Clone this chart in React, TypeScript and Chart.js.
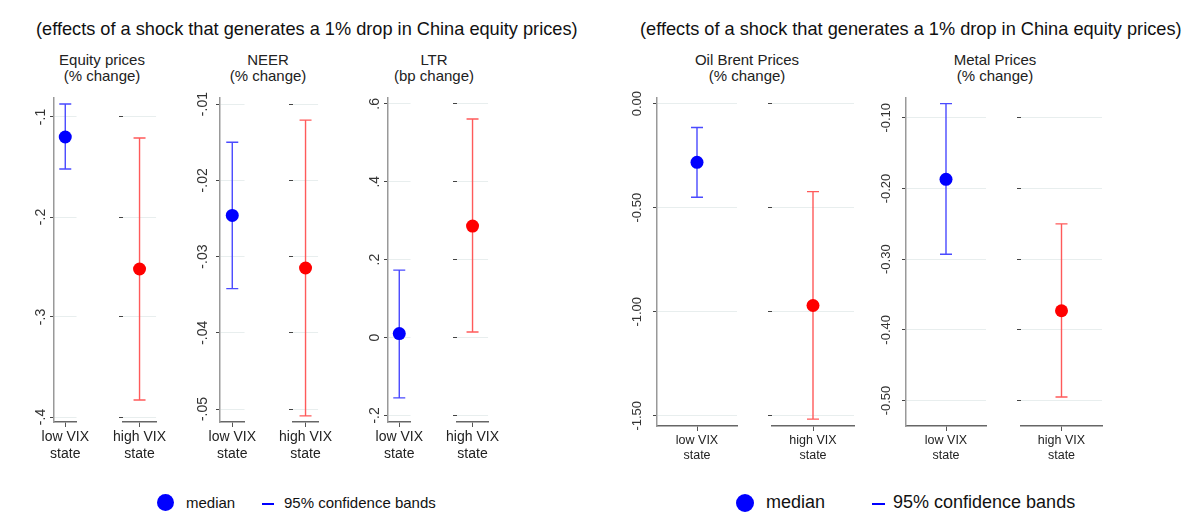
import React, { useEffect, useRef } from "react";
import { Chart, registerables } from "chart.js";
Chart.register(...registerables);

const states = [["low VIX", "state"], ["high VIX", "state"]];
const panelTitles = [["Equity prices", "(% change)"], ["NEER", "(% change)"], ["LTR", "(bp change)"], ["Oil Brent Prices", "(% change)"], ["Metal Prices", "(% change)"]];
// [low, high] per variable
const medians = [[-0.120, -0.252], [-0.0246, -0.0315], [0.010, 0.286], [-0.282, -0.970], [-0.187, -0.373]];
const lower = [[-0.152, -0.383], [-0.0342, -0.0509], [-0.155, 0.014], [-0.450, -1.516], [-0.293, -0.495]];
const upper = [[-0.087, -0.121], [-0.0150, -0.0121], [0.173, 0.561], [-0.115, -0.423], [-0.080, -0.250]];
const yMin = [-0.405, -0.0517, -0.217, -1.549, -0.536];
const yMax = [-0.081, -0.0092, 0.615, 0.027, -0.072];
const yTicks = [[-0.1, -0.2, -0.3, -0.4], [-0.01, -0.02, -0.03, -0.04, -0.05], [0.6, 0.4, 0.2, 0, -0.2], [0, -0.5, -1.0, -1.5], [-0.1, -0.2, -0.3, -0.4, -0.5]];
const yLabels = [["-.1", "-.2", "-.3", "-.4"], ["-.01", "-.02", "-.03", "-.04", "-.05"], [".6", ".4", ".2", "0", "-.2"], ["0.00", "-0.50", "-1.00", "-1.50"], ["-0.10", "-0.20", "-0.30", "-0.40", "-0.50"]];

// layout: [left, right] of chart area for low and high subplots
const boxes = [
  [[54, 90], [123, 167]],
  [[220, 257], [293, 333]],
  [[388, 424], [457, 500]],
  [[657, 737], [772, 854]],
  [[906, 986], [1021, 1102]],
];

const errPlugin = {
  id: "err",
  afterDatasetsDraw(chart: any, _a: any, o: any) {
    const { ctx } = chart;
    const x = chart.scales.x.getPixelForValue(0);
    const y1 = chart.scales.y.getPixelForValue(o.lo);
    const y2 = chart.scales.y.getPixelForValue(o.hi);
    ctx.save();
    ctx.strokeStyle = o.color;
    ctx.lineWidth = 1.4;
    ctx.beginPath();
    ctx.moveTo(x, y1); ctx.lineTo(x, y2);
    ctx.moveTo(x - 6, y1); ctx.lineTo(x + 6, y1);
    ctx.moveTo(x - 6, y2); ctx.lineTo(x + 6, y2);
    ctx.stroke();
    const ym = chart.scales.y.getPixelForValue(o.med);
    ctx.fillStyle = o.dot;
    ctx.beginPath(); ctx.arc(x, ym, 6.5, 0, Math.PI * 2); ctx.fill();
    ctx.restore();
  },
};

function Sub({ v, s }: { v: number; s: number }) {
  const ref = useRef<HTMLCanvasElement>(null);
  const right = v >= 3;
  const YW = right ? 30 : 24;
  const top = 98, bottom = right ? 426 : 422;
  const [l, r] = boxes[v][s];
  const cTop = top - 10;
  const xH = 40;
  const w = r - l + YW + 2;
  const h = bottom - top + 10 + xH;
  useEffect(() => {
    const low = s === 0;
    const c = new Chart(ref.current!, {
      type: "line",
      data: { labels: [states[s]], datasets: [{ data: [medians[v][s]], pointRadius: 0, showLine: false }] },
      options: {
        animation: false, responsive: false, maintainAspectRatio: false,
        layout: { padding: { top: 10, right: 2, left: 0, bottom: 0 } },
        plugins: {
          legend: { display: false }, tooltip: { enabled: false },
          err: { lo: lower[v][s], hi: upper[v][s], med: medians[v][s], color: low ? "#4a4aff" : "#ff5a5a", dot: low ? "#0000ff" : "#ff0000" },
        } as any,
        scales: {
          x: {
            offset: true,
            grid: { offset: false, drawOnChartArea: false, drawTicks: true, tickLength: 5, tickColor: "#555" },
            border: { color: "#666", width: 1.5 },
            ticks: { color: "#222", font: { family: "Arial", size: right ? 12.5 : 14 }, padding: 2, maxRotation: 0 },
            afterFit: (sc: any) => { sc.height = xH; },
          },
          y: {
            min: yMin[v], max: yMax[v],
            afterBuildTicks: (sc: any) => { sc.ticks = yTicks[v].map((t) => ({ value: t })); },
            afterFit: (sc: any) => { sc.width = YW; },
            grid: { color: "#e8eeee", lineWidth: 1, tickLength: 4, tickColor: "#444" },
            border: { display: low, color: "#999", width: 1.5 },
            ticks: {
              color: "#333", font: { family: "Arial", size: right ? 13 : 14 }, minRotation: 90, maxRotation: 90, padding: 1,
              crossAlign: "center",
              callback: (_val: any, i: number) => (low ? yLabels[v][i] : ""),
            },
          },
        },
      },
      plugins: [errPlugin],
    });
    return () => c.destroy();
  }, []);
  return <canvas ref={ref} width={w} height={h} style={{ position: "absolute", left: l - YW, top: cTop, width: w, height: h }} />;
}

const titleX = [102, 268, 434, 747, 995];

export default function App() {
  const txt: React.CSSProperties = { position: "absolute", fontFamily: "Arial, Liberation Sans, sans-serif", color: "#111", whiteSpace: "nowrap" };
  return (
    <div style={{ position: "relative", width: 1203, height: 532, margin: -8, background: "#fff", overflow: "hidden" }}>
      <div style={{ ...txt, left: 36, top: 19, fontSize: 18.2 }}>(effects of a shock that generates a 1% drop in China equity prices)</div>
      <div style={{ ...txt, left: 640, top: 19, fontSize: 18.2 }}>(effects of a shock that generates a 1% drop in China equity prices)</div>
      {panelTitles.map((t, i) => (
        <div key={i} style={{ ...txt, left: titleX[i] - 100, width: 200, top: 52, fontSize: 15, textAlign: "center", lineHeight: "16px", color: "#222" }}>
          {t[0]}<br />{t[1]}
        </div>
      ))}
      {[0, 1, 2, 3, 4].map((v) => [0, 1].map((s) => <Sub key={v + "-" + s} v={v} s={s} />))}
      <div style={{ ...txt, left: 157, top: 494, width: 17, height: 17, borderRadius: "50%", background: "#0000ff" }} />
      <div style={{ ...txt, left: 186, top: 494, fontSize: 15 }}>median</div>
      <div style={{ ...txt, left: 262, top: 503, width: 12, height: 1.5, background: "#0000ff" }} />
      <div style={{ ...txt, left: 284, top: 494, fontSize: 15 }}>95% confidence bands</div>
      <div style={{ ...txt, left: 736, top: 494, width: 18, height: 18, borderRadius: "50%", background: "#0000ff" }} />
      <div style={{ ...txt, left: 766, top: 492, fontSize: 18 }}>median</div>
      <div style={{ ...txt, left: 872, top: 503, width: 13, height: 1.5, background: "#0000ff" }} />
      <div style={{ ...txt, left: 893, top: 492, fontSize: 18 }}>95% confidence bands</div>
    </div>
  );
}
